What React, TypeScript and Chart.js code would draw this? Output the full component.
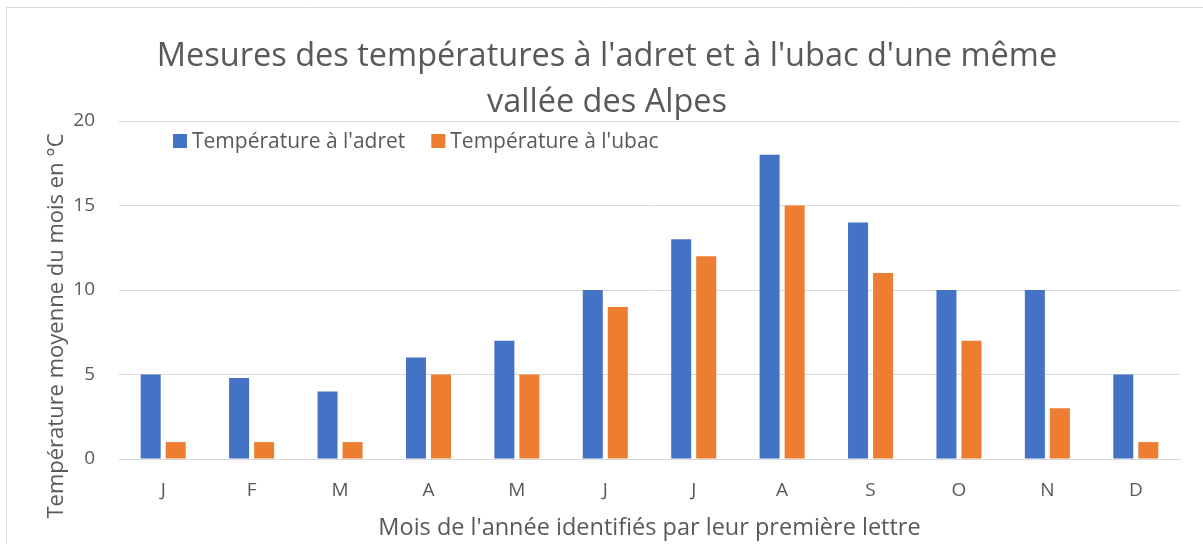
import React, { useEffect, useRef } from "react";
import { Chart, registerables } from "chart.js";

Chart.register(...registerables);

const categories = ["J", "F", "M", "A", "M", "J", "J", "A", "S", "O", "N", "D"];
const adretValues = [5, 4.8, 4, 6, 7, 10, 13, 18, 14, 10, 10, 5];
const ubacValues = [1, 1, 1, 5, 5, 9, 12, 15, 11, 7, 3, 1];
const seriesLabels = ["Température à l'adret", "Température à l'ubac"];
const seriesColors = ["#4472C4", "#ED7D31"];
const titleLines = ["Mesures des températures à l'adret et à l'ubac d'une même", "vallée des Alpes"];
const yAxisTitle = "Température moyenne du mois en °C";
const xAxisTitle = "Mois de l'année identifiés par leur première lettre";
const yMin = 0;
const yMax = 20;
const yStep = 5;

const FONT = "'Open Sans', 'Noto Sans', sans-serif";
const TEXT = "#595959";
const GRID = "#d9d9d9";

const framePlugin = {
  id: "frame",
  beforeDraw(chart: any) {
    const { ctx, width, height } = chart;
    ctx.save();
    ctx.fillStyle = "#ffffff";
    ctx.fillRect(0, 0, width, height);
    ctx.strokeStyle = GRID;
    ctx.lineWidth = 1;
    ctx.beginPath();
    ctx.moveTo(6.5, height + 2);
    ctx.lineTo(6.5, 7.5);
    ctx.lineTo(width + 2, 7.5);
    ctx.stroke();
    ctx.restore();
  },
};

const customTextPlugin = {
  id: "customText",
  afterDraw(chart: any) {
    const { ctx, chartArea } = chart;
    ctx.save();
    ctx.fillStyle = TEXT;
    ctx.font = `22px ${FONT}`;
    ctx.translate(63, 326);
    ctx.rotate(-Math.PI / 2);
    ctx.textAlign = "center";
    ctx.textBaseline = "alphabetic";
    ctx.fillText(yAxisTitle, 0, 0);
    ctx.restore();

    ctx.save();
    ctx.font = `21px ${FONT}`;
    ctx.textBaseline = "middle";
    ctx.textAlign = "left";
    let x = chartArea.left + 54;
    const yc = chartArea.top + 20;
    chart.data.datasets.forEach((ds: any) => {
      ctx.fillStyle = ds.backgroundColor;
      ctx.fillRect(x, yc - 7, 14, 14);
      ctx.fillStyle = TEXT;
      ctx.fillText(ds.label, x + 19, yc + 1);
      x += 19 + ctx.measureText(ds.label).width + 26;
    });
    ctx.restore();
  },
};

export default function App() {
  const ref = useRef<HTMLCanvasElement>(null);
  useEffect(() => {
    if (!ref.current) return;
    const chart = new Chart(ref.current, {
      type: "bar",
      data: {
        labels: categories,
        datasets: [
          { label: seriesLabels[0], data: adretValues, backgroundColor: seriesColors[0], borderWidth: 0 },
          { label: seriesLabels[1], data: ubacValues, backgroundColor: seriesColors[1], borderWidth: 0 },
        ],
      },
      options: {
        responsive: false,
        animation: false,
        devicePixelRatio: 1,
        categoryPercentage: 0.566,
        barPercentage: 0.8,
        layout: { padding: { left: 34, right: 23, top: 0, bottom: 0 } },
        plugins: {
          legend: { display: false },
          tooltip: { enabled: false },
          title: {
            display: true,
            text: titleLines,
            color: TEXT,
            font: { family: FONT, size: 32.5, weight: "normal", lineHeight: 1.4 },
            padding: { top: 34, bottom: -4 },
          },
        },
        scales: {
          x: {
            grid: { display: false, drawTicks: false },
            border: { display: true, color: GRID, width: 1 },
            ticks: { color: TEXT, font: { family: FONT, size: 19 }, padding: 20 },
            title: {
              display: true,
              text: xAxisTitle,
              color: TEXT,
              font: { family: FONT, size: 23.5 },
              padding: { top: 0, bottom: 2 },
            },
            afterFit(scale: any) {
              scale.height = 85;
            },
          },
          y: {
            min: yMin,
            max: yMax,
            grid: { color: GRID, lineWidth: 1, drawTicks: false },
            border: { display: false },
            ticks: { stepSize: yStep, color: TEXT, font: { family: FONT, size: 19 }, padding: 24 },
            afterFit(scale: any) {
              scale.width = 85;
            },
          },
        },
      },
      plugins: [framePlugin, customTextPlugin],
    });
    return () => chart.destroy();
  }, []);
  return (
    <canvas
      ref={ref}
      width={1203}
      height={544}
      style={{ position: "fixed", left: 0, top: 0, display: "block" }}
    />
  );
}
